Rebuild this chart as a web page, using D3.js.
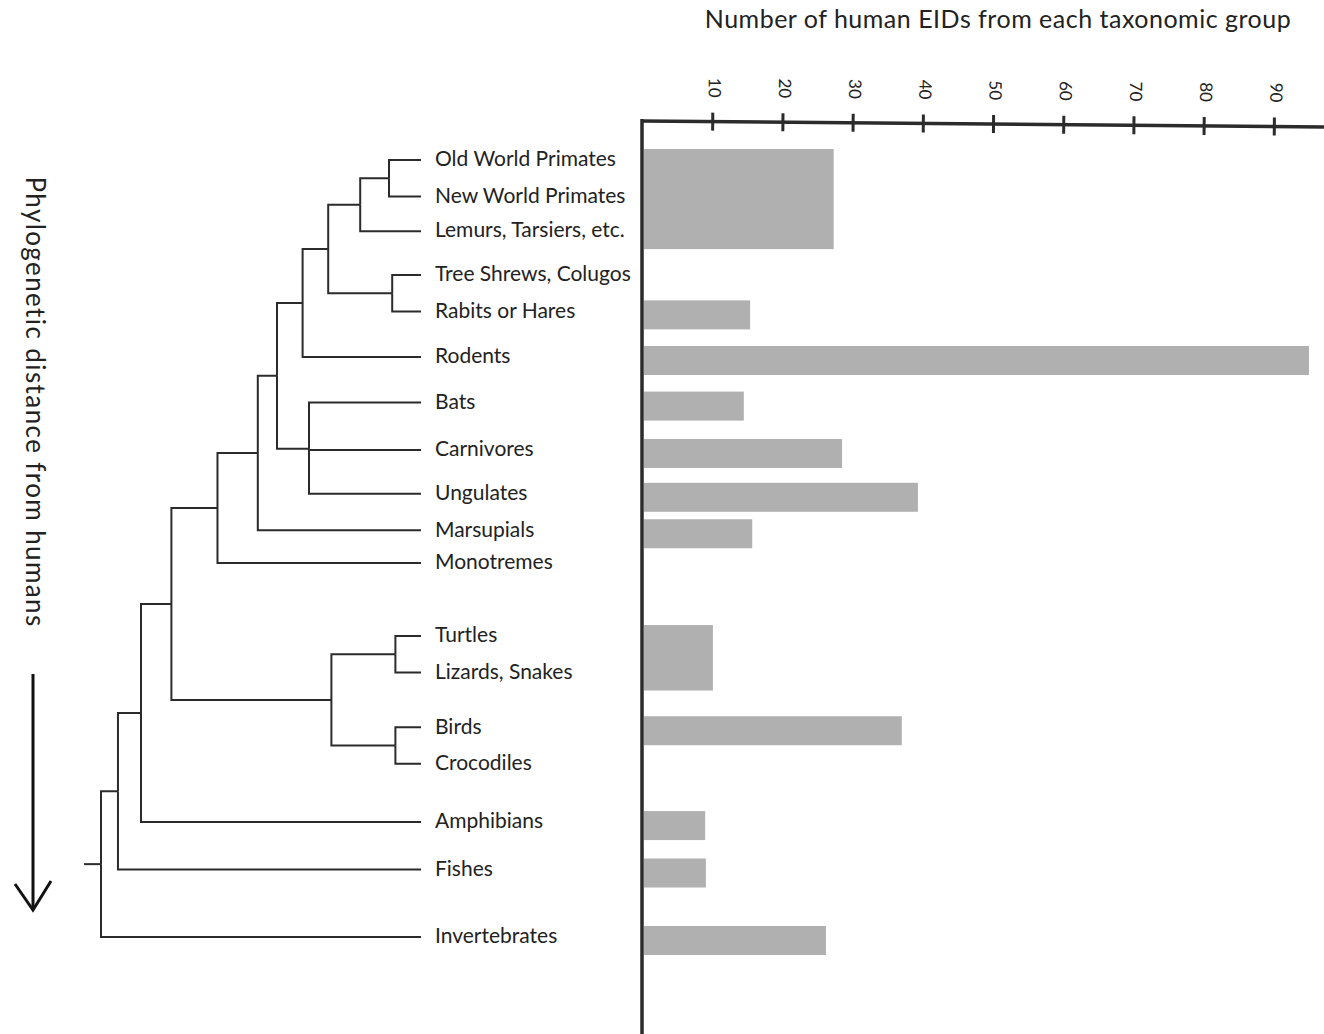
<!DOCTYPE html>
<html><head><meta charset="utf-8">
<script src="https://cdn.jsdelivr.net/npm/d3@7"></script>
<style>
body{margin:0;background:#fff}
text{font-family:Lato,"Liberation Sans",sans-serif;fill:#222}
</style>
</head><body>
<svg id="chart" width="1324" height="1034"></svg>
<script>
// ---------------- DATA ----------------
const taxa = ["Old World Primates","New World Primates","Lemurs, Tarsiers, etc.","Tree Shrews, Colugos","Rabits or Hares","Rodents","Bats","Carnivores","Ungulates","Marsupials","Monotremes","Turtles","Lizards, Snakes","Birds","Crocodiles","Amphibians","Fishes","Invertebrates"];

// tree topology (clade name, relative split position 0 = root … 100 = tips)
const tree = {name:"Root", rank:0, children:[
  {name:"Non-invertebrates", rank:5.3, children:[
    {name:"Tetrapods+", rank:12.5, children:[
      {name:"Amniotes", rank:22, children:[
        {name:"Mammals", rank:36.4, children:[
          {name:"Theria", rank:49, children:[
            {name:"Eutheria", rank:55, children:[
              {name:"Euarchontoglires", rank:63, children:[
                {name:"Euarchonta", rank:71, children:[
                  {name:"Primates", rank:81, children:[
                    {name:"Anthropoids", rank:90, children:[{name:"Old World Primates"},{name:"New World Primates"}]},
                    {name:"Lemurs, Tarsiers, etc."}]},
                  {name:"Scandentia+Lagomorpha", rank:91, children:[{name:"Tree Shrews, Colugos"},{name:"Rabits or Hares"}]}]},
                {name:"Rodents"}]},
              {name:"Laurasiatheria", rank:65, children:[{name:"Bats"},{name:"Carnivores"},{name:"Ungulates"}]}]},
            {name:"Marsupials"}]},
          {name:"Monotremes"}]},
        {name:"Reptiles", rank:72, children:[
          {name:"Testudines+Squamata", rank:92, children:[{name:"Turtles"},{name:"Lizards, Snakes"}]},
          {name:"Archosaurs", rank:92, children:[{name:"Birds"},{name:"Crocodiles"}]}]}]},
      {name:"Amphibians"}]},
    {name:"Fishes"}]},
  {name:"Invertebrates"}]};

// bars: first and last taxon covered, and number of human EIDs
const barFirst = ["Old World Primates","Rabits or Hares","Rodents","Bats","Carnivores","Ungulates","Marsupials","Turtles","Birds","Amphibians","Fishes","Invertebrates"];
const barLast  = ["Lemurs, Tarsiers, etc.","Rabits or Hares","Rodents","Bats","Carnivores","Ungulates","Marsupials","Lizards, Snakes","Birds","Amphibians","Fishes","Invertebrates"];
const eidCounts = [27.3, 15.4, 95, 14.5, 28.5, 39.3, 15.7, 10.1, 37, 9, 9.1, 26.2];

const tickValues = [10,20,30,40,50,60,70,80,90];
const xTitle = "Number of human EIDs from each taxonomic group";
const yTitle = "Phylogenetic distance from humans";

// ---------------- LAYOUT ----------------
// spacing before each tip, in row units (visual grouping)
const rowGaps = [0, 1, 0.95, 1.2, 1, 1.25, 1.25, 1.3, 1.2, 1, 0.9, 2, 1, 1.5, 1, 1.6, 1.3, 1.85];

const svg = d3.select("#chart");
const ink = "#2b2b2b";

const root = d3.hierarchy(tree);
d3.cluster().nodeSize([1,1])
  .separation(a => rowGaps[taxa.indexOf(a.data.name)] ?? 1)(root);
const tips = root.leaves();

const yRow = d3.scaleLinear().domain([tips[0].x, tips[tips.length-1].x]).range([160, 937]);
const xRank = d3.scaleLinear().domain([0, 100]).range([101, 421]);
const rankOf = n => n.children ? n.data.rank : 100;

// dendrogram
const gTree = svg.append("g");
gTree.selectAll("path.link").data(root.links()).join("path")
  .attr("fill","none").attr("stroke",ink).attr("stroke-width",2)
  .attr("d", l => `M${xRank(rankOf(l.source))},${yRow(l.source.x)}V${yRow(l.target.x)}H${xRank(rankOf(l.target))}`);
gTree.append("path").attr("fill","none").attr("stroke",ink).attr("stroke-width",2)
  .attr("d", `M${xRank(-5.3)},${yRow(root.x)}H${xRank(0)}`);

gTree.selectAll("text.tip").data(tips).join("text")
  .attr("x", xRank(100) + 14).attr("y", d => yRow(d.x) + 1)
  .attr("dominant-baseline","middle")
  .style("font-size","21px")
  .text(d => d.data.name);

// bars
const tipY = name => yRow(tips.find(t => t.data.name === name).x);
const xVal = d3.scaleLinear().domain([0, 97]).range([642, 1323]);
const bars = eidCounts.map((v,i) => ({v, first:barFirst[i], last:barLast[i]}));
svg.append("g").selectAll("rect").data(bars).join("rect")
  .attr("x", xVal(0) + 2)
  .attr("y", d => tipY(d.first) - 11)
  .attr("width", d => xVal(d.v) - xVal(0) - 2)
  .attr("height", d => tipY(d.last) - tipY(d.first) + 29)
  .attr("fill", "#b0b0b0");

// value axis (top)
const gAx = svg.append("g").attr("transform", `translate(0,121) rotate(0.5, ${xVal(0)}, 0)`);
gAx.call(d3.axisTop(xVal).tickValues(tickValues).tickSizeOuter(0).tickSizeInner(9).tickPadding(0));
gAx.select(".domain").attr("stroke", ink).attr("stroke-width", 3.5).attr("d", `M${xVal(0)-1},0H1324`);
gAx.selectAll(".tick line").attr("stroke", ink).attr("stroke-width", 3).attr("y1", 9).attr("y2", -9);
gAx.selectAll(".tick text")
  .attr("fill", "#222").attr("x", 0).attr("y", 0).attr("dy", null)
  .attr("transform", "translate(0,-24) rotate(90)")
  .attr("text-anchor", "end").attr("dominant-baseline", "middle")
  .style("font-family", "Lato, sans-serif").style("font-size", "17px");

// vertical baseline of the bars
svg.append("line").attr("x1", xVal(0)).attr("x2", xVal(0)).attr("y1", 119).attr("y2", 1034)
  .attr("stroke", ink).attr("stroke-width", 3.5);

// titles
svg.append("text").attr("x", 998).attr("y", 22).attr("text-anchor","middle")
  .attr("dominant-baseline","middle").style("font-size","25px").style("letter-spacing","0.5px").text(xTitle);
svg.append("text").attr("transform","translate(33,402) rotate(90)").attr("text-anchor","middle")
  .attr("dominant-baseline","middle").style("font-size","26px").style("letter-spacing","1.4px").text(yTitle);

// arrow
svg.append("path").attr("fill","none").attr("stroke","#111").attr("stroke-width",3)
  .attr("d","M33,674V910");
svg.append("path").attr("fill","none").attr("stroke","#111").attr("stroke-width",3)
  .attr("d","M15,884L33,910L51,881");
</script>
</body></html>
